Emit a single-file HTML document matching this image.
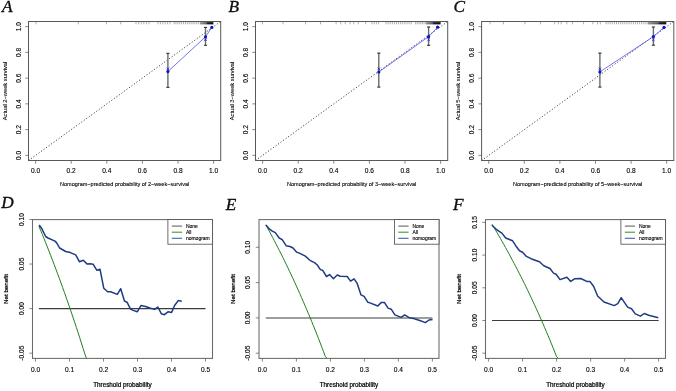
<!DOCTYPE html>
<html><head><meta charset="utf-8"><style>
html,body{margin:0;padding:0;background:#fff;width:676px;height:391px;overflow:hidden}
svg{display:block;will-change:transform}
text{stroke:#000;stroke-width:0.22px;paint-order:normal}
</style></head><body>
<svg width="676" height="391" viewBox="0 0 676 391">
<rect width="676" height="391" fill="#fff"/>
<text transform="translate(2.0 11.8) scale(1.08 1)" style="font-family:'Liberation Serif', serif;font-style:italic;font-size:16px;stroke-width:0.3px" fill="#111">A</text>
<path d="M36.1 21.5V24.3M78.3 21.5V24.3M106.4 21.5V24.3M120.7 21.5V24.3M136.0 21.5V24.3M138.6 21.5V24.3M141.2 21.5V24.3M143.8 21.5V24.3M146.4 21.5V24.3M149.0 21.5V24.3M158.0 21.5V24.3M160.4 21.5V24.3M162.8 21.5V24.3M165.2 21.5V24.3M167.6 21.5V24.3M170.0 21.5V24.3M174.0 21.5V24.3M175.9 21.5V24.3M177.8 21.5V24.3M179.7 21.5V24.3M181.6 21.5V24.3M183.5 21.5V24.3M185.4 21.5V24.3M187.3 21.5V24.3M189.2 21.5V24.3M191.1 21.5V24.3M193.0 21.5V24.3M194.9 21.5V24.3M196.8 21.5V24.3M198.7 21.5V24.3" stroke="#7a7a7a" stroke-width="0.6" fill="none"/>
<defs><linearGradient id="gA" x1="0" x2="1" y1="0" y2="0"><stop offset="0" stop-color="#999"/><stop offset="0.552" stop-color="#555"/><stop offset="0.553" stop-color="#222"/><stop offset="1" stop-color="#111"/></linearGradient></defs>
<rect x="200" y="22.1" width="13.400000000000006" height="2.3" fill="url(#gA)"/>
<line x1="28.50" y1="160.50" x2="220.70" y2="21.50" stroke="#222" stroke-width="0.9" stroke-dasharray="1.1 2"/>
<line x1="167.9" y1="53.3" x2="167.9" y2="87.3" stroke="#6a6a6a" stroke-width="1.4"/>
<path d="M166.3 53.3H169.5M166.3 87.3H169.5" stroke="#222" stroke-width="1"/>
<line x1="205.5" y1="27.4" x2="205.5" y2="45.3" stroke="#6a6a6a" stroke-width="1.4"/>
<path d="M203.9 27.4H207.1M203.9 45.3H207.1" stroke="#222" stroke-width="1"/>
<path d="M167.9 71.6 L205.5 36.8 L211.8 27.4" stroke="#5050f0" stroke-width="0.8" fill="none"/>
<circle cx="167.9" cy="71.6" r="1.6" fill="#1010d0"/>
<path d="M166.70000000000002 67.6L169.1 70.0M166.70000000000002 70.0L169.1 67.6" stroke="#2020d0" stroke-width="0.8"/>
<circle cx="205.5" cy="36.8" r="1.6" fill="#1010d0"/>
<path d="M204.3 38.5L206.7 40.900000000000006M204.3 40.900000000000006L206.7 38.5" stroke="#2020d0" stroke-width="0.8"/>
<circle cx="211.8" cy="27.4" r="1.6" fill="#1010d0"/>
<rect x="28.5" y="21.5" width="192.2" height="139.0" fill="none" stroke="#585858" stroke-width="1"/>
<text x="35.62" y="173.3" text-anchor="middle" style="font-family:'Liberation Sans', sans-serif;font-size:6.6px;stroke-width:0.12px" fill="#000">0.0</text>
<text transform="translate(20.70 155.35) rotate(-90)" text-anchor="middle" style="font-family:'Liberation Sans', sans-serif;font-size:6.6px;stroke-width:0.12px" fill="#000">0.0</text>
<text x="71.21" y="173.3" text-anchor="middle" style="font-family:'Liberation Sans', sans-serif;font-size:6.6px;stroke-width:0.12px" fill="#000">0.2</text>
<text transform="translate(20.70 129.61) rotate(-90)" text-anchor="middle" style="font-family:'Liberation Sans', sans-serif;font-size:6.6px;stroke-width:0.12px" fill="#000">0.2</text>
<text x="106.80" y="173.3" text-anchor="middle" style="font-family:'Liberation Sans', sans-serif;font-size:6.6px;stroke-width:0.12px" fill="#000">0.4</text>
<text transform="translate(20.70 103.87) rotate(-90)" text-anchor="middle" style="font-family:'Liberation Sans', sans-serif;font-size:6.6px;stroke-width:0.12px" fill="#000">0.4</text>
<text x="142.40" y="173.3" text-anchor="middle" style="font-family:'Liberation Sans', sans-serif;font-size:6.6px;stroke-width:0.12px" fill="#000">0.6</text>
<text transform="translate(20.70 78.13) rotate(-90)" text-anchor="middle" style="font-family:'Liberation Sans', sans-serif;font-size:6.6px;stroke-width:0.12px" fill="#000">0.6</text>
<text x="177.99" y="173.3" text-anchor="middle" style="font-family:'Liberation Sans', sans-serif;font-size:6.6px;stroke-width:0.12px" fill="#000">0.8</text>
<text transform="translate(20.70 52.39) rotate(-90)" text-anchor="middle" style="font-family:'Liberation Sans', sans-serif;font-size:6.6px;stroke-width:0.12px" fill="#000">0.8</text>
<text x="213.58" y="173.3" text-anchor="middle" style="font-family:'Liberation Sans', sans-serif;font-size:6.6px;stroke-width:0.12px" fill="#000">1.0</text>
<text transform="translate(20.70 26.65) rotate(-90)" text-anchor="middle" style="font-family:'Liberation Sans', sans-serif;font-size:6.6px;stroke-width:0.12px" fill="#000">1.0</text>
<path d="M35.62 160.5V163.7M28.5 155.35H25.3M71.21 160.5V163.7M28.5 129.61H25.3M106.80 160.5V163.7M28.5 103.87H25.3M142.40 160.5V163.7M28.5 78.13H25.3M177.99 160.5V163.7M28.5 52.39H25.3M213.58 160.5V163.7M28.5 26.65H25.3" stroke="#555" stroke-width="0.7"/>
<text x="124.60" y="185.7" text-anchor="middle" style="font-family:'Liberation Sans', sans-serif;font-size:5.55px;stroke-width:0.1px" fill="#000">Nomogram−predicted probability of 2−week−survival</text>
<text transform="translate(6.70 91.00) rotate(-90)" text-anchor="middle" style="font-family:'Liberation Sans', sans-serif;font-size:5.75px;stroke-width:0.08px" fill="#000">Actual 2−week survival</text>
<text transform="translate(228.6 11.8) scale(1.08 1)" style="font-family:'Liberation Serif', serif;font-style:italic;font-size:16px;stroke-width:0.3px" fill="#111">B</text>
<path d="M262.5 21.5V24.3M283.0 21.5V24.3M305.5 21.5V24.3M320.5 21.5V24.3M336.1 21.5V24.3M340.7 21.5V24.3M345.3 21.5V24.3M350.0 21.5V24.3M353.7 21.5V24.3M358.3 21.5V24.3M365.7 21.5V24.3M372.0 21.5V24.3M374.2 21.5V24.3M376.4 21.5V24.3M378.6 21.5V24.3M386.0 21.5V24.3M388.1 21.5V24.3M390.2 21.5V24.3M392.3 21.5V24.3M394.4 21.5V24.3M396.5 21.5V24.3M398.6 21.5V24.3M400.7 21.5V24.3M402.8 21.5V24.3M404.9 21.5V24.3M407.0 21.5V24.3M409.1 21.5V24.3M411.2 21.5V24.3M415.6 21.5V24.3M417.3 21.5V24.3M419.0 21.5V24.3M420.7 21.5V24.3M422.4 21.5V24.3M424.1 21.5V24.3" stroke="#7a7a7a" stroke-width="0.6" fill="none"/>
<defs><linearGradient id="gB" x1="0" x2="1" y1="0" y2="0"><stop offset="0" stop-color="#999"/><stop offset="0.523" stop-color="#555"/><stop offset="0.524" stop-color="#222"/><stop offset="1" stop-color="#111"/></linearGradient></defs>
<rect x="425.5" y="22.1" width="15.100000000000023" height="2.3" fill="url(#gB)"/>
<line x1="255.50" y1="160.50" x2="447.70" y2="21.50" stroke="#222" stroke-width="0.9" stroke-dasharray="1.1 2"/>
<line x1="378.8" y1="53.1" x2="378.8" y2="87.1" stroke="#6a6a6a" stroke-width="1.4"/>
<path d="M377.2 53.1H380.40000000000003M377.2 87.1H380.40000000000003" stroke="#222" stroke-width="1"/>
<line x1="428.6" y1="27.0" x2="428.6" y2="45.3" stroke="#6a6a6a" stroke-width="1.4"/>
<path d="M427.0 27.0H430.20000000000005M427.0 45.3H430.20000000000005" stroke="#222" stroke-width="1"/>
<path d="M378.8 72.0 L428.6 36.7 L437.6 27.2" stroke="#5050f0" stroke-width="0.8" fill="none"/>
<circle cx="378.8" cy="72.0" r="1.6" fill="#1010d0"/>
<path d="M377.6 67.6L380.0 70.0M377.6 70.0L380.0 67.6" stroke="#2020d0" stroke-width="0.8"/>
<circle cx="428.6" cy="36.7" r="1.6" fill="#1010d0"/>
<path d="M427.40000000000003 38.5L429.8 40.900000000000006M427.40000000000003 40.900000000000006L429.8 38.5" stroke="#2020d0" stroke-width="0.8"/>
<circle cx="437.6" cy="27.2" r="1.6" fill="#1010d0"/>
<rect x="255.5" y="21.5" width="192.2" height="139.0" fill="none" stroke="#585858" stroke-width="1"/>
<text x="262.62" y="173.3" text-anchor="middle" style="font-family:'Liberation Sans', sans-serif;font-size:6.6px;stroke-width:0.12px" fill="#000">0.0</text>
<text transform="translate(247.70 155.35) rotate(-90)" text-anchor="middle" style="font-family:'Liberation Sans', sans-serif;font-size:6.6px;stroke-width:0.12px" fill="#000">0.0</text>
<text x="298.21" y="173.3" text-anchor="middle" style="font-family:'Liberation Sans', sans-serif;font-size:6.6px;stroke-width:0.12px" fill="#000">0.2</text>
<text transform="translate(247.70 129.61) rotate(-90)" text-anchor="middle" style="font-family:'Liberation Sans', sans-serif;font-size:6.6px;stroke-width:0.12px" fill="#000">0.2</text>
<text x="333.80" y="173.3" text-anchor="middle" style="font-family:'Liberation Sans', sans-serif;font-size:6.6px;stroke-width:0.12px" fill="#000">0.4</text>
<text transform="translate(247.70 103.87) rotate(-90)" text-anchor="middle" style="font-family:'Liberation Sans', sans-serif;font-size:6.6px;stroke-width:0.12px" fill="#000">0.4</text>
<text x="369.40" y="173.3" text-anchor="middle" style="font-family:'Liberation Sans', sans-serif;font-size:6.6px;stroke-width:0.12px" fill="#000">0.6</text>
<text transform="translate(247.70 78.13) rotate(-90)" text-anchor="middle" style="font-family:'Liberation Sans', sans-serif;font-size:6.6px;stroke-width:0.12px" fill="#000">0.6</text>
<text x="404.99" y="173.3" text-anchor="middle" style="font-family:'Liberation Sans', sans-serif;font-size:6.6px;stroke-width:0.12px" fill="#000">0.8</text>
<text transform="translate(247.70 52.39) rotate(-90)" text-anchor="middle" style="font-family:'Liberation Sans', sans-serif;font-size:6.6px;stroke-width:0.12px" fill="#000">0.8</text>
<text x="440.58" y="173.3" text-anchor="middle" style="font-family:'Liberation Sans', sans-serif;font-size:6.6px;stroke-width:0.12px" fill="#000">1.0</text>
<text transform="translate(247.70 26.65) rotate(-90)" text-anchor="middle" style="font-family:'Liberation Sans', sans-serif;font-size:6.6px;stroke-width:0.12px" fill="#000">1.0</text>
<path d="M262.62 160.5V163.7M255.5 155.35H252.3M298.21 160.5V163.7M255.5 129.61H252.3M333.80 160.5V163.7M255.5 103.87H252.3M369.40 160.5V163.7M255.5 78.13H252.3M404.99 160.5V163.7M255.5 52.39H252.3M440.58 160.5V163.7M255.5 26.65H252.3" stroke="#555" stroke-width="0.7"/>
<text x="351.60" y="185.7" text-anchor="middle" style="font-family:'Liberation Sans', sans-serif;font-size:5.55px;stroke-width:0.1px" fill="#000">Nomogram−predicted probability of 3−week−survival</text>
<text transform="translate(233.70 91.00) rotate(-90)" text-anchor="middle" style="font-family:'Liberation Sans', sans-serif;font-size:5.75px;stroke-width:0.08px" fill="#000">Actual 3−week survival</text>
<text transform="translate(453.6 11.8) scale(1.08 1)" style="font-family:'Liberation Serif', serif;font-style:italic;font-size:16px;stroke-width:0.3px" fill="#111">C</text>
<path d="M490.1 21.5V24.3M503.4 21.5V24.3M524.9 21.5V24.3M540.4 21.5V24.3M554.7 21.5V24.3M558.4 21.5V24.3M561.2 21.5V24.3M566.8 21.5V24.3M572.4 21.5V24.3M583.6 21.5V24.3M592.9 21.5V24.3M597.5 21.5V24.3M600.3 21.5V24.3M606.0 21.5V24.3M608.1 21.5V24.3M610.2 21.5V24.3M612.3 21.5V24.3M614.4 21.5V24.3M616.5 21.5V24.3M618.6 21.5V24.3M620.7 21.5V24.3M622.8 21.5V24.3M624.9 21.5V24.3M627.0 21.5V24.3M629.1 21.5V24.3M631.2 21.5V24.3M633.3 21.5V24.3M635.4 21.5V24.3M637.5 21.5V24.3M639.6 21.5V24.3M641.7 21.5V24.3M643.8 21.5V24.3M645.9 21.5V24.3" stroke="#7a7a7a" stroke-width="0.6" fill="none"/>
<defs><linearGradient id="gC" x1="0" x2="1" y1="0" y2="0"><stop offset="0" stop-color="#999"/><stop offset="0.585" stop-color="#555"/><stop offset="0.586" stop-color="#222"/><stop offset="1" stop-color="#111"/></linearGradient></defs>
<rect x="647.5" y="22.1" width="18.799999999999955" height="2.3" fill="url(#gC)"/>
<line x1="481.60" y1="160.50" x2="673.80" y2="21.50" stroke="#222" stroke-width="0.9" stroke-dasharray="1.1 2"/>
<line x1="599.9" y1="53.1" x2="599.9" y2="87.1" stroke="#6a6a6a" stroke-width="1.4"/>
<path d="M598.3 53.1H601.5M598.3 87.1H601.5" stroke="#222" stroke-width="1"/>
<line x1="653.4" y1="27.0" x2="653.4" y2="45.2" stroke="#6a6a6a" stroke-width="1.4"/>
<path d="M651.8 27.0H655.0M651.8 45.2H655.0" stroke="#222" stroke-width="1"/>
<path d="M599.9 71.9 L653.4 36.6 L664.0 27.4" stroke="#5050f0" stroke-width="0.8" fill="none"/>
<circle cx="599.9" cy="71.9" r="1.6" fill="#1010d0"/>
<path d="M598.6999999999999 67.6L601.1 70.0M598.6999999999999 70.0L601.1 67.6" stroke="#2020d0" stroke-width="0.8"/>
<circle cx="653.4" cy="36.6" r="1.6" fill="#1010d0"/>
<path d="M652.1999999999999 38.5L654.6 40.900000000000006M652.1999999999999 40.900000000000006L654.6 38.5" stroke="#2020d0" stroke-width="0.8"/>
<circle cx="664.0" cy="27.4" r="1.6" fill="#1010d0"/>
<rect x="481.6" y="21.5" width="192.2" height="139.0" fill="none" stroke="#585858" stroke-width="1"/>
<text x="488.72" y="173.3" text-anchor="middle" style="font-family:'Liberation Sans', sans-serif;font-size:6.6px;stroke-width:0.12px" fill="#000">0.0</text>
<text transform="translate(473.80 155.35) rotate(-90)" text-anchor="middle" style="font-family:'Liberation Sans', sans-serif;font-size:6.6px;stroke-width:0.12px" fill="#000">0.0</text>
<text x="524.31" y="173.3" text-anchor="middle" style="font-family:'Liberation Sans', sans-serif;font-size:6.6px;stroke-width:0.12px" fill="#000">0.2</text>
<text transform="translate(473.80 129.61) rotate(-90)" text-anchor="middle" style="font-family:'Liberation Sans', sans-serif;font-size:6.6px;stroke-width:0.12px" fill="#000">0.2</text>
<text x="559.90" y="173.3" text-anchor="middle" style="font-family:'Liberation Sans', sans-serif;font-size:6.6px;stroke-width:0.12px" fill="#000">0.4</text>
<text transform="translate(473.80 103.87) rotate(-90)" text-anchor="middle" style="font-family:'Liberation Sans', sans-serif;font-size:6.6px;stroke-width:0.12px" fill="#000">0.4</text>
<text x="595.50" y="173.3" text-anchor="middle" style="font-family:'Liberation Sans', sans-serif;font-size:6.6px;stroke-width:0.12px" fill="#000">0.6</text>
<text transform="translate(473.80 78.13) rotate(-90)" text-anchor="middle" style="font-family:'Liberation Sans', sans-serif;font-size:6.6px;stroke-width:0.12px" fill="#000">0.6</text>
<text x="631.09" y="173.3" text-anchor="middle" style="font-family:'Liberation Sans', sans-serif;font-size:6.6px;stroke-width:0.12px" fill="#000">0.8</text>
<text transform="translate(473.80 52.39) rotate(-90)" text-anchor="middle" style="font-family:'Liberation Sans', sans-serif;font-size:6.6px;stroke-width:0.12px" fill="#000">0.8</text>
<text x="666.68" y="173.3" text-anchor="middle" style="font-family:'Liberation Sans', sans-serif;font-size:6.6px;stroke-width:0.12px" fill="#000">1.0</text>
<text transform="translate(473.80 26.65) rotate(-90)" text-anchor="middle" style="font-family:'Liberation Sans', sans-serif;font-size:6.6px;stroke-width:0.12px" fill="#000">1.0</text>
<path d="M488.72 160.5V163.7M481.6 155.35H478.40000000000003M524.31 160.5V163.7M481.6 129.61H478.40000000000003M559.90 160.5V163.7M481.6 103.87H478.40000000000003M595.50 160.5V163.7M481.6 78.13H478.40000000000003M631.09 160.5V163.7M481.6 52.39H478.40000000000003M666.68 160.5V163.7M481.6 26.65H478.40000000000003" stroke="#555" stroke-width="0.7"/>
<text x="577.70" y="185.7" text-anchor="middle" style="font-family:'Liberation Sans', sans-serif;font-size:5.55px;stroke-width:0.1px" fill="#000">Nomogram−predicted probability of 5−week−survival</text>
<text transform="translate(459.80 91.00) rotate(-90)" text-anchor="middle" style="font-family:'Liberation Sans', sans-serif;font-size:5.75px;stroke-width:0.08px" fill="#000">Actual 5−week survival</text>
<text transform="translate(1.2 208.0) scale(1.08 1)" style="font-family:'Liberation Serif', serif;font-style:italic;font-size:16px;stroke-width:0.3px" fill="#111">D</text>
<line x1="38.90" y1="308.60" x2="205.50" y2="308.60" stroke="#3c3c3c" stroke-width="1.05"/>
<path d="M38.90 226.13 L40.60 230.24 L42.30 234.39 L44.00 238.58 L45.70 242.81 L47.40 247.09 L49.10 251.41 L50.80 255.78 L52.50 260.19 L54.20 264.65 L55.90 269.16 L57.60 273.71 L59.30 278.31 L61.00 282.97 L62.70 287.67 L64.40 292.43 L66.10 297.24 L67.80 302.10 L69.50 307.02 L71.20 311.99 L72.90 317.01 L74.60 322.10 L76.30 327.24 L78.00 332.44 L79.70 337.70 L81.40 343.02 L83.10 348.40 L84.80 353.84 L86.50 358.40" stroke="#1f7f1f" stroke-width="1.0" fill="none"/>
<path d="M39.1 225 L41.9 228.8 L45.7 236.5 L48 238 L55 241.1 L56.5 242.6 L59.6 248 L65.7 251.5 L70.3 252.6 L75.7 254.9 L79.5 261.8 L83.3 260.3 L87.2 264.1 L90 263.7 L93.1 264.2 L96.9 270.3 L100 269.2 L103.8 288.3 L107.6 291.8 L110.7 291.8 L117.3 294.4 L120.7 288.7 L124.5 301 L127 302.2 L130.6 309.1 L133.2 310.4 L137.3 311.8 L140.9 305.5 L145.5 306.5 L150.6 308.3 L154.7 309.4 L157.8 307 L161.3 313.7 L164.4 314.7 L168 311.8 L171.6 312.4 L174.6 305.5 L178.2 300.6 L181.8 301.2" stroke="#1f3c82" stroke-width="1.5" fill="none" stroke-linejoin="round"/>
<rect x="32.5" y="219.6" width="180.0" height="138.79999999999998" fill="none" stroke="#6a6a6a" stroke-width="1.05"/>
<rect x="167.90" y="219.6" width="44.60" height="24.6" fill="#fff" stroke="#4a4a4a" stroke-width="0.8"/>
<line x1="171.80" y1="226.10" x2="182.10" y2="226.10" stroke="#666" stroke-width="1.1"/>
<text x="185.90" y="227.90" style="font-family:'Liberation Sans', sans-serif;font-size:5.0px;stroke-width:0.12px" fill="#000">None</text>
<line x1="171.80" y1="232.20" x2="182.10" y2="232.20" stroke="#3a9a3a" stroke-width="1.1"/>
<text x="185.90" y="234.00" style="font-family:'Liberation Sans', sans-serif;font-size:5.0px;stroke-width:0.12px" fill="#000">All</text>
<line x1="171.80" y1="238.30" x2="182.10" y2="238.30" stroke="#3f62a8" stroke-width="1.1"/>
<text x="185.90" y="240.10" style="font-family:'Liberation Sans', sans-serif;font-size:5.0px;stroke-width:0.12px" fill="#000">nomogram</text>
<text x="35.50" y="372.0" text-anchor="middle" style="font-family:'Liberation Sans', sans-serif;font-size:6.6px;stroke-width:0.12px" fill="#000">0.0</text>
<text x="69.50" y="372.0" text-anchor="middle" style="font-family:'Liberation Sans', sans-serif;font-size:6.6px;stroke-width:0.12px" fill="#000">0.1</text>
<text x="103.50" y="372.0" text-anchor="middle" style="font-family:'Liberation Sans', sans-serif;font-size:6.6px;stroke-width:0.12px" fill="#000">0.2</text>
<text x="137.50" y="372.0" text-anchor="middle" style="font-family:'Liberation Sans', sans-serif;font-size:6.6px;stroke-width:0.12px" fill="#000">0.3</text>
<text x="171.50" y="372.0" text-anchor="middle" style="font-family:'Liberation Sans', sans-serif;font-size:6.6px;stroke-width:0.12px" fill="#000">0.4</text>
<text x="205.50" y="372.0" text-anchor="middle" style="font-family:'Liberation Sans', sans-serif;font-size:6.6px;stroke-width:0.12px" fill="#000">0.5</text>
<text transform="translate(23.70 219.47) rotate(-90)" text-anchor="middle" style="font-family:'Liberation Sans', sans-serif;font-size:6.6px;stroke-width:0.12px" fill="#000">0.10</text>
<text transform="translate(23.70 264.04) rotate(-90)" text-anchor="middle" style="font-family:'Liberation Sans', sans-serif;font-size:6.6px;stroke-width:0.12px" fill="#000">0.05</text>
<text transform="translate(23.70 308.60) rotate(-90)" text-anchor="middle" style="font-family:'Liberation Sans', sans-serif;font-size:6.6px;stroke-width:0.12px" fill="#000">0.00</text>
<text transform="translate(23.70 353.17) rotate(-90)" text-anchor="middle" style="font-family:'Liberation Sans', sans-serif;font-size:6.6px;stroke-width:0.12px" fill="#000">-0.05</text>
<path d="M35.50 358.4V361.59999999999997M69.50 358.4V361.59999999999997M103.50 358.4V361.59999999999997M137.50 358.4V361.59999999999997M171.50 358.4V361.59999999999997M205.50 358.4V361.59999999999997M32.5 219.47H29.3M32.5 264.04H29.3M32.5 308.60H29.3M32.5 353.17H29.3" stroke="#555" stroke-width="0.7"/>
<text x="122.50" y="387.4" text-anchor="middle" style="font-family:'Liberation Sans', sans-serif;font-size:6.3px" fill="#000">Threshold probability</text>
<text transform="translate(8.20 289.00) rotate(-90)" text-anchor="middle" style="font-family:'Liberation Sans', sans-serif;font-size:6.2px" fill="#000">Net benefit</text>
<text transform="translate(225.8 209.8) scale(1.08 1)" style="font-family:'Liberation Serif', serif;font-style:italic;font-size:16px;stroke-width:0.3px" fill="#111">E</text>
<line x1="265.80" y1="317.90" x2="432.40" y2="317.90" stroke="#3c3c3c" stroke-width="1.05"/>
<path d="M265.80 224.77 L267.50 227.88 L269.20 231.02 L270.90 234.19 L272.60 237.40 L274.30 240.64 L276.00 243.92 L277.70 247.23 L279.40 250.57 L281.10 253.95 L282.80 257.36 L284.50 260.82 L286.20 264.30 L287.90 267.83 L289.60 271.40 L291.30 275.00 L293.00 278.64 L294.70 282.33 L296.40 286.05 L298.10 289.82 L299.80 293.63 L301.50 297.48 L303.20 301.37 L304.90 305.31 L306.60 309.30 L308.30 313.33 L310.00 317.41 L311.70 321.53 L313.40 325.71 L315.10 329.93 L316.80 334.21 L318.50 338.53 L320.20 342.91 L321.90 347.34 L323.60 351.82 L325.30 356.36 L327.00 358.40" stroke="#1f7f1f" stroke-width="1.0" fill="none"/>
<path d="M265.8 225 L269.2 228.8 L272.3 231.1 L275.3 232.6 L279.2 238 L282.2 239.6 L286.1 245.7 L289.9 246.5 L293 248 L296.5 252.1 L299.9 253.4 L305.3 256.1 L309.9 260.3 L314.5 262.6 L317.3 265 L320.4 269.6 L322.7 270.3 L326.5 276.5 L329.6 274.6 L333.4 278.8 L337.2 275 L340.3 276.2 L347.2 276.5 L350.6 281.1 L354.1 278.8 L357.2 283.4 L361 294.9 L364.1 296.4 L367.9 302.3 L370 302.9 L377.8 306 L381.4 302.4 L384.5 302.6 L388.1 308.1 L391.2 309.2 L394.9 314.9 L401.1 317.4 L404.7 314.9 L408.8 317.4 L414.5 318.8 L419.7 320.5 L425.4 322.6 L429 320 L432.6 319.5" stroke="#1f3c82" stroke-width="1.5" fill="none" stroke-linejoin="round"/>
<rect x="259.0" y="219.6" width="180.0" height="138.79999999999998" fill="none" stroke="#6a6a6a" stroke-width="1.05"/>
<rect x="394.40" y="219.6" width="44.60" height="24.6" fill="#fff" stroke="#4a4a4a" stroke-width="0.8"/>
<line x1="398.30" y1="226.10" x2="408.60" y2="226.10" stroke="#666" stroke-width="1.1"/>
<text x="412.40" y="227.90" style="font-family:'Liberation Sans', sans-serif;font-size:5.0px;stroke-width:0.12px" fill="#000">None</text>
<line x1="398.30" y1="232.20" x2="408.60" y2="232.20" stroke="#3a9a3a" stroke-width="1.1"/>
<text x="412.40" y="234.00" style="font-family:'Liberation Sans', sans-serif;font-size:5.0px;stroke-width:0.12px" fill="#000">All</text>
<line x1="398.30" y1="238.30" x2="408.60" y2="238.30" stroke="#3f62a8" stroke-width="1.1"/>
<text x="412.40" y="240.10" style="font-family:'Liberation Sans', sans-serif;font-size:5.0px;stroke-width:0.12px" fill="#000">nomogram</text>
<text x="262.40" y="372.0" text-anchor="middle" style="font-family:'Liberation Sans', sans-serif;font-size:6.6px;stroke-width:0.12px" fill="#000">0.0</text>
<text x="296.40" y="372.0" text-anchor="middle" style="font-family:'Liberation Sans', sans-serif;font-size:6.6px;stroke-width:0.12px" fill="#000">0.1</text>
<text x="330.40" y="372.0" text-anchor="middle" style="font-family:'Liberation Sans', sans-serif;font-size:6.6px;stroke-width:0.12px" fill="#000">0.2</text>
<text x="364.40" y="372.0" text-anchor="middle" style="font-family:'Liberation Sans', sans-serif;font-size:6.6px;stroke-width:0.12px" fill="#000">0.3</text>
<text x="398.40" y="372.0" text-anchor="middle" style="font-family:'Liberation Sans', sans-serif;font-size:6.6px;stroke-width:0.12px" fill="#000">0.4</text>
<text x="432.40" y="372.0" text-anchor="middle" style="font-family:'Liberation Sans', sans-serif;font-size:6.6px;stroke-width:0.12px" fill="#000">0.5</text>
<text transform="translate(250.20 247.30) rotate(-90)" text-anchor="middle" style="font-family:'Liberation Sans', sans-serif;font-size:6.6px;stroke-width:0.12px" fill="#000">0.10</text>
<text transform="translate(250.20 282.60) rotate(-90)" text-anchor="middle" style="font-family:'Liberation Sans', sans-serif;font-size:6.6px;stroke-width:0.12px" fill="#000">0.05</text>
<text transform="translate(250.20 317.90) rotate(-90)" text-anchor="middle" style="font-family:'Liberation Sans', sans-serif;font-size:6.6px;stroke-width:0.12px" fill="#000">0.00</text>
<text transform="translate(250.20 353.20) rotate(-90)" text-anchor="middle" style="font-family:'Liberation Sans', sans-serif;font-size:6.6px;stroke-width:0.12px" fill="#000">-0.05</text>
<path d="M262.40 358.4V361.59999999999997M296.40 358.4V361.59999999999997M330.40 358.4V361.59999999999997M364.40 358.4V361.59999999999997M398.40 358.4V361.59999999999997M432.40 358.4V361.59999999999997M259.0 247.30H255.8M259.0 282.60H255.8M259.0 317.90H255.8M259.0 353.20H255.8" stroke="#555" stroke-width="0.7"/>
<text x="349.00" y="387.4" text-anchor="middle" style="font-family:'Liberation Sans', sans-serif;font-size:6.3px" fill="#000">Threshold probability</text>
<text transform="translate(234.70 289.00) rotate(-90)" text-anchor="middle" style="font-family:'Liberation Sans', sans-serif;font-size:6.2px" fill="#000">Net benefit</text>
<text transform="translate(453.0 209.8) scale(1.08 1)" style="font-family:'Liberation Serif', serif;font-style:italic;font-size:16px;stroke-width:0.3px" fill="#111">F</text>
<line x1="492.00" y1="320.50" x2="658.60" y2="320.50" stroke="#3c3c3c" stroke-width="1.05"/>
<path d="M492.00 224.18 L493.70 227.01 L495.40 229.87 L497.10 232.76 L498.80 235.68 L500.50 238.63 L502.20 241.61 L503.90 244.62 L505.60 247.67 L507.30 250.74 L509.00 253.85 L510.70 256.99 L512.40 260.16 L514.10 263.37 L515.80 266.62 L517.50 269.90 L519.20 273.21 L520.90 276.56 L522.60 279.95 L524.30 283.38 L526.00 286.84 L527.70 290.35 L529.40 293.89 L531.10 297.48 L532.80 301.11 L534.50 304.77 L536.20 308.48 L537.90 312.24 L539.60 316.04 L541.30 319.88 L543.00 323.77 L544.70 327.71 L546.40 331.69 L548.10 335.72 L549.80 339.80 L551.50 343.93 L553.20 348.11 L554.90 352.35 L556.60 356.63 L558.30 358.40" stroke="#1f7f1f" stroke-width="1.0" fill="none"/>
<path d="M491.9 225.3 L495.7 228.8 L498.8 231.1 L501.9 233.1 L505.7 238 L508.8 239.2 L512.6 240.8 L515.7 245.7 L519.5 250.8 L522.6 252.3 L526.4 256.4 L531 258.7 L537.2 261 L539.5 261.8 L543.8 265.7 L550 268.5 L553.5 273.1 L556.1 274.2 L560 279.6 L566.9 277.2 L570.7 281.4 L574.5 278.8 L580.7 278.5 L586.8 281.4 L589.9 281.4 L593.7 286.5 L597.6 296 L604 302 L614.2 305.6 L617.8 303.7 L621.2 297.7 L627.6 307.1 L631.5 308.8 L635.3 313.9 L640.4 316.1 L644.3 313.5 L648.7 315.2 L658.3 317.8" stroke="#1f3c82" stroke-width="1.5" fill="none" stroke-linejoin="round"/>
<rect x="485.5" y="219.6" width="180.0" height="138.79999999999998" fill="none" stroke="#6a6a6a" stroke-width="1.05"/>
<rect x="620.90" y="219.6" width="44.60" height="24.6" fill="#fff" stroke="#4a4a4a" stroke-width="0.8"/>
<line x1="624.80" y1="226.10" x2="635.10" y2="226.10" stroke="#666" stroke-width="1.1"/>
<text x="638.90" y="227.90" style="font-family:'Liberation Sans', sans-serif;font-size:5.0px;stroke-width:0.12px" fill="#000">None</text>
<line x1="624.80" y1="232.20" x2="635.10" y2="232.20" stroke="#3a9a3a" stroke-width="1.1"/>
<text x="638.90" y="234.00" style="font-family:'Liberation Sans', sans-serif;font-size:5.0px;stroke-width:0.12px" fill="#000">All</text>
<line x1="624.80" y1="238.30" x2="635.10" y2="238.30" stroke="#3f62a8" stroke-width="1.1"/>
<text x="638.90" y="240.10" style="font-family:'Liberation Sans', sans-serif;font-size:5.0px;stroke-width:0.12px" fill="#000">nomogram</text>
<text x="488.60" y="372.0" text-anchor="middle" style="font-family:'Liberation Sans', sans-serif;font-size:6.6px;stroke-width:0.12px" fill="#000">0.0</text>
<text x="522.60" y="372.0" text-anchor="middle" style="font-family:'Liberation Sans', sans-serif;font-size:6.6px;stroke-width:0.12px" fill="#000">0.1</text>
<text x="556.60" y="372.0" text-anchor="middle" style="font-family:'Liberation Sans', sans-serif;font-size:6.6px;stroke-width:0.12px" fill="#000">0.2</text>
<text x="590.60" y="372.0" text-anchor="middle" style="font-family:'Liberation Sans', sans-serif;font-size:6.6px;stroke-width:0.12px" fill="#000">0.3</text>
<text x="624.60" y="372.0" text-anchor="middle" style="font-family:'Liberation Sans', sans-serif;font-size:6.6px;stroke-width:0.12px" fill="#000">0.4</text>
<text x="658.60" y="372.0" text-anchor="middle" style="font-family:'Liberation Sans', sans-serif;font-size:6.6px;stroke-width:0.12px" fill="#000">0.5</text>
<text transform="translate(476.70 222.40) rotate(-90)" text-anchor="middle" style="font-family:'Liberation Sans', sans-serif;font-size:6.6px;stroke-width:0.12px" fill="#000">0.15</text>
<text transform="translate(476.70 255.10) rotate(-90)" text-anchor="middle" style="font-family:'Liberation Sans', sans-serif;font-size:6.6px;stroke-width:0.12px" fill="#000">0.10</text>
<text transform="translate(476.70 287.80) rotate(-90)" text-anchor="middle" style="font-family:'Liberation Sans', sans-serif;font-size:6.6px;stroke-width:0.12px" fill="#000">0.05</text>
<text transform="translate(476.70 320.50) rotate(-90)" text-anchor="middle" style="font-family:'Liberation Sans', sans-serif;font-size:6.6px;stroke-width:0.12px" fill="#000">0.00</text>
<text transform="translate(476.70 353.20) rotate(-90)" text-anchor="middle" style="font-family:'Liberation Sans', sans-serif;font-size:6.6px;stroke-width:0.12px" fill="#000">-0.05</text>
<path d="M488.60 358.4V361.59999999999997M522.60 358.4V361.59999999999997M556.60 358.4V361.59999999999997M590.60 358.4V361.59999999999997M624.60 358.4V361.59999999999997M658.60 358.4V361.59999999999997M485.5 222.40H482.3M485.5 255.10H482.3M485.5 287.80H482.3M485.5 320.50H482.3M485.5 353.20H482.3" stroke="#555" stroke-width="0.7"/>
<text x="575.50" y="387.4" text-anchor="middle" style="font-family:'Liberation Sans', sans-serif;font-size:6.3px" fill="#000">Threshold probability</text>
<text transform="translate(461.20 289.00) rotate(-90)" text-anchor="middle" style="font-family:'Liberation Sans', sans-serif;font-size:6.2px" fill="#000">Net benefit</text>
</svg>
</body></html>
